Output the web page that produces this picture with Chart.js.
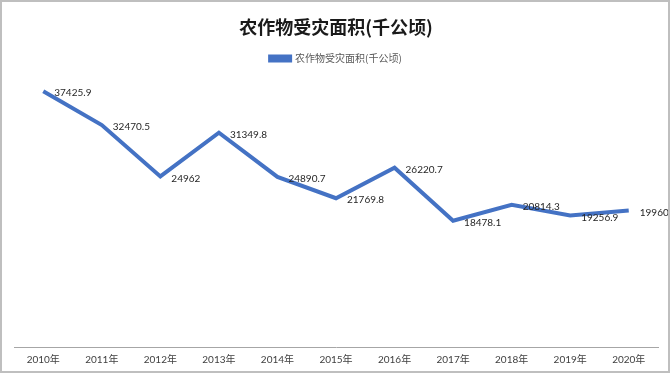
<!DOCTYPE html>
<html>
<head>
<meta charset="utf-8">
<script src="https://cdn.jsdelivr.net/npm/chart.js@4"></script>
<style>
  body { margin: 0; background: #fff; }
  #wrap {
    position: relative;
    width: 670px;
    height: 373px;
    box-sizing: border-box;
    border: 2px solid #bfbfbf;
    background: #fff;
  }
</style>
</head>
<body>
<div id="wrap"><canvas id="chart"></canvas></div>
<script>
// ── Data ─────────────────────────────────────────────────────
const years  = ["2010年", "2011年", "2012年", "2013年", "2014年", "2015年",
                "2016年", "2017年", "2018年", "2019年", "2020年"];
const damage = [37425.9, 32470.5, 24962, 31349.8, 24890.7, 21769.8,
                26220.7, 18478.1, 20814.3, 19256.9, 19960];
const seriesName = "农作物受灾面积(千公顷)";

const BLUE = "#4472C4";

// ── Value labels to the right of each point ─────────────────
const pointLabels = {
  id: "pointLabels",
  afterDatasetsDraw(chart) {
    const ctx  = chart.ctx;
    const meta = chart.getDatasetMeta(0);
    ctx.save();
    ctx.font = "10px Lato, 'Liberation Sans', sans-serif";
    ctx.fillStyle = "#262626";
    ctx.textAlign = "left";
    ctx.textBaseline = "middle";
    meta.data.forEach((pt, i) => {
      ctx.fillText(String(damage[i]), pt.x + 11, pt.y + 2);
    });
    ctx.restore();
  }
};

new Chart(document.getElementById("chart"), {
  type: "line",
  data: {
    labels: years,
    datasets: [{
      label: seriesName,
      data: damage,
      borderColor: BLUE,
      backgroundColor: BLUE,
      borderWidth: 4,
      pointRadius: 0,
      tension: 0,
      borderJoinStyle: "miter",
    }],
  },
  options: {
    responsive: true,
    maintainAspectRatio: false,
    animation: false,
    layout: { padding: { left: 12, right: 10, top: 4, bottom: -2 } },
    plugins: {
      title: {
        display: true,
        text: seriesName,
        color: "#1a1a1a",
        font: { family: "'Noto Sans CJK SC', sans-serif", size: 18, weight: "bold" },
        padding: { top: 10, bottom: 12 },
      },
      legend: {
        display: true,
        position: "top",
        labels: {
          boxWidth: 20,
          boxHeight: 4,
          padding: 4,
          color: "#595959",
          font: { family: "'Noto Sans CJK SC', sans-serif", size: 10 },
        },
      },
      tooltip: { enabled: false },
    },
    scales: {
      x: {
        offset: true,
        grid: { display: false, drawTicks: false },
        border: { display: true, color: "#a6a6a6", width: 1 },
        ticks: {
          autoSkip: false,
          maxRotation: 0,
          padding: 7,
          color: "#404040",
          font: { family: "Lato, 'Noto Sans CJK SC', sans-serif", size: 10 },
        },
      },
      y: {
        display: false,
        min: 0,
        max: 40000,
      },
    },
  },
  plugins: [pointLabels],
});
</script>
</body>
</html>
